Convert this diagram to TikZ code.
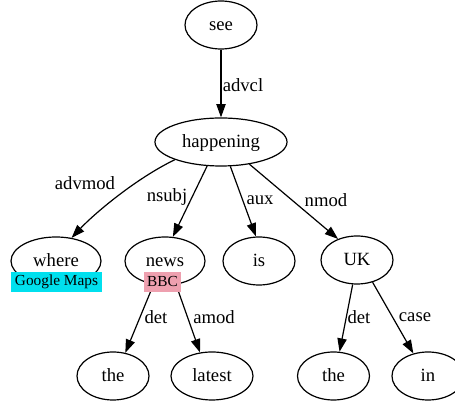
\documentclass[tikz,border=0pt]{standalone}
\usepackage{fontspec}
\setmainfont{Liberation Serif}
\usetikzlibrary{arrows.meta, shapes.geometric}
\definecolor{mapsCyan}{RGB}{0,224,238}
\definecolor{bbcPink}{RGB}{238,160,175}
\tikzset{
  word/.style={ellipse, draw, line width=0.9pt, inner sep=0pt, minimum height=36pt, minimum width=54pt, text height=9.5pt, text depth=1.5pt, font=\fontsize{14}{16}\selectfont},
  dep/.style={line width=0.9pt, -{Triangle[length=10pt,width=7pt]}},
  rel/.style={font=\fontsize{14}{16}\selectfont, inner sep=0pt},
  tag/.style={inner sep=1pt, minimum height=15pt, font=\fontsize{11.5}{13}\selectfont}
}

\begin{document}
\begin{tikzpicture}[x=0.75pt, y=-0.75pt]
  \useasboundingbox (0,0) rectangle (455,402);
  % words
  \node[word] (see) at (221,25) {see};
  \node[word, minimum width=99pt] (happening) at (221,142) {happening};
  \node[word, minimum width=67.5pt] (where) at (56,261) {where};
  \node[word, minimum width=60pt] (news) at (165,261) {news};
  \node[word] (is) at (259,261) {is};
  \node[word] (UK) at (357,260) {UK};
  \node[word] (the1) at (113,376) {the};
  \node[word, minimum width=61.5pt] (latest) at (212,376) {latest};
  \node[word] (the2) at (333.5,376) {the};
  \node[word] (in) at (428,376) {in};
  % dependencies
  \draw[dep] (see) -- (happening);
  \draw[dep] (happening.201) .. controls (135,179) and (94,214) .. (where.56);
  \draw[dep] (happening.240) -- (news.72);
  \draw[dep] (happening.291) -- (is.97);
  \draw[dep] (happening.322) -- (UK.132);
  \draw[dep] (news.244) -- (the1.62);
  \draw[dep] (news.295) -- (latest.117);
  \draw[dep] (UK.260) -- (the2.76);
  \draw[dep] (UK.305) -- (in.123);
  % relation labels
  \node[rel] (advclL) at (243,85) {advcl};
  \node[rel] (advmodL) at (85,183) {advmod};
  \node[rel] (nsubjL) at (167,197) {nsubj};
  \node[rel] (auxL) at (260,200) {aux};
  \node[rel] (nmodL) at (326,200) {nmod};
  \node[rel] (det1L) at (156,317) {det};
  \node[rel] (amodL) at (214,317) {amod};
  \node[rel] (det2L) at (359,317) {det};
  \node[rel] (caseL) at (415,317) {case};
  % entity tags
  \node[tag, fill=mapsCyan, minimum width=68pt] (gmaps) at (56.5,282) {Google Maps};
  \node[tag, fill=bbcPink, minimum width=27.75pt] (bbc) at (162.5,282) {BBC};
\end{tikzpicture}
\end{document}
